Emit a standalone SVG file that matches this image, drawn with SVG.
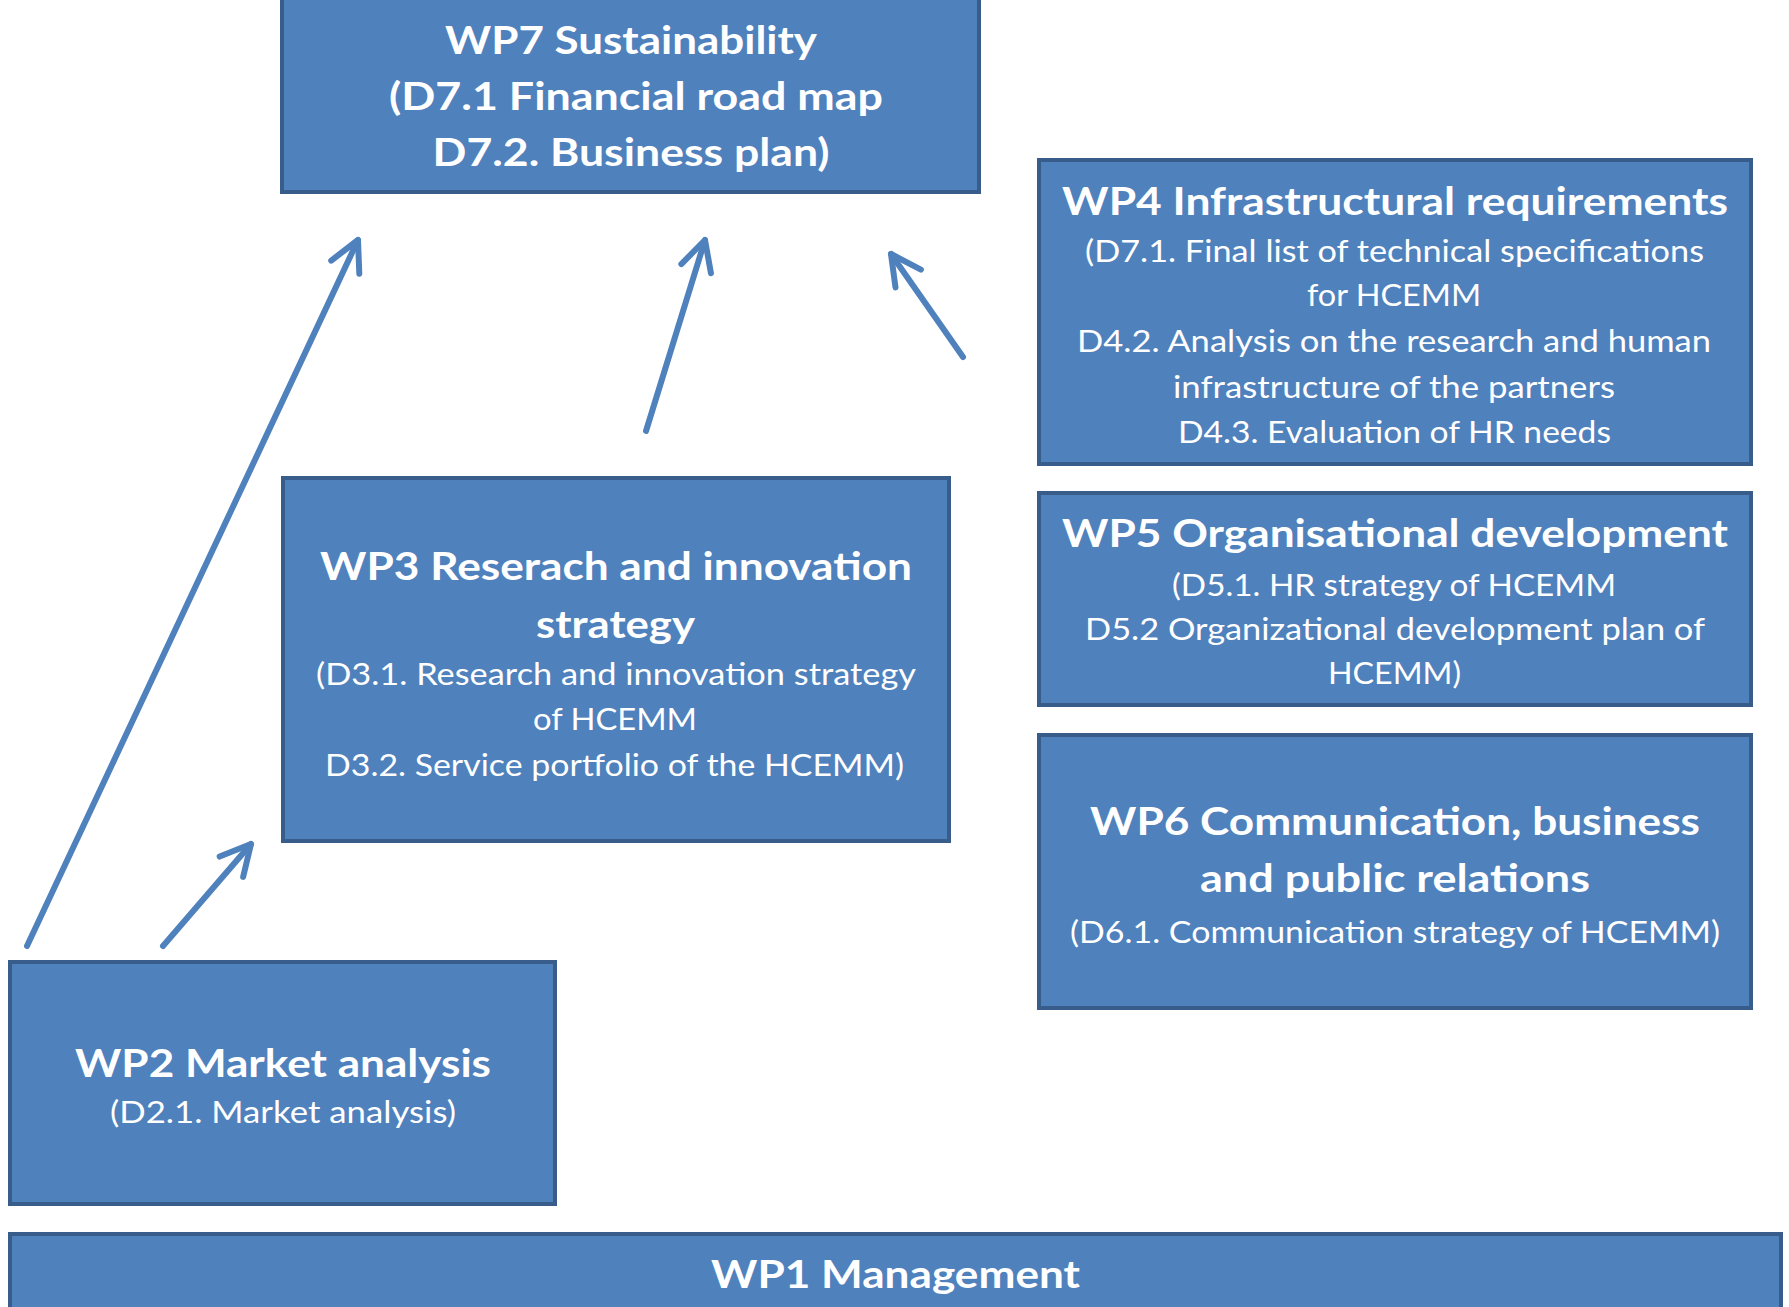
<svg xmlns="http://www.w3.org/2000/svg" width="1789" height="1307" viewBox="0 0 1789 1307">
<style>
.box{fill:#4f81bd;stroke:#385d8a;stroke-width:4}
.b{font-family:Lato,"Open Sans","Liberation Sans",sans-serif;font-weight:700;font-size:39px;fill:#fff;text-anchor:middle}
.r{font-family:Lato,"Open Sans","Liberation Sans",sans-serif;font-weight:400;font-size:30.5px;fill:#fff;text-anchor:middle}
.conn{stroke:#4f81bd;stroke-width:6;stroke-linecap:round;fill:none}
</style>
<defs>
<marker id="arr" markerUnits="userSpaceOnUse" viewBox="-40 -25 50 50" markerWidth="50" markerHeight="50" refX="0" refY="0" orient="auto" overflow="visible">
<path d="M-30,-15.5 L0,0 L-30,15.5" fill="none" stroke="#4f81bd" stroke-width="6" stroke-linecap="round" stroke-linejoin="round"/>
</marker>
</defs>
<rect width="1789" height="1307" fill="#fff"/>
<g id="connectors">
<line class="conn" x1="27" y1="946" x2="358" y2="240" marker-end="url(#arr)"/>
<line class="conn" x1="646" y1="431" x2="705" y2="240" marker-end="url(#arr)"/>
<line class="conn" x1="963" y1="357" x2="891" y2="254" marker-end="url(#arr)"/>
<line class="conn" x1="163" y1="946" x2="251" y2="844" marker-end="url(#arr)"/>
</g>
<g id="wp7">
<rect class="box" x="282" y="-4" width="697" height="196"/>
<text class="b" x="631" y="54" textLength="372" lengthAdjust="spacingAndGlyphs">WP7 Sustainability</text>
<text class="b" x="636" y="110" textLength="494" lengthAdjust="spacingAndGlyphs">(D7.1 Financial road map</text>
<text class="b" x="631" y="166" textLength="397" lengthAdjust="spacingAndGlyphs">D7.2. Business plan)</text>
</g>
<g id="wp4">
<rect class="box" x="1039" y="160" width="712" height="304"/>
<text class="b" x="1395" y="215" textLength="666" lengthAdjust="spacingAndGlyphs">WP4 Infrastructural requirements</text>
<text class="r" x="1394.5" y="262" textLength="619" lengthAdjust="spacingAndGlyphs">(D7.1. Final list of technical specifications</text>
<text class="r" x="1394" y="306" textLength="174" lengthAdjust="spacingAndGlyphs">for HCEMM</text>
<text class="r" x="1394" y="352" textLength="634" lengthAdjust="spacingAndGlyphs">D4.2. Analysis on the research and human</text>
<text class="r" x="1394" y="398" textLength="442" lengthAdjust="spacingAndGlyphs">infrastructure of the partners</text>
<text class="r" x="1394.5" y="443" textLength="433" lengthAdjust="spacingAndGlyphs">D4.3. Evaluation of HR needs</text>
</g>
<g id="wp5">
<rect class="box" x="1039" y="493" width="712" height="212"/>
<text class="b" x="1395" y="547" textLength="666" lengthAdjust="spacingAndGlyphs">WP5 Organisational development</text>
<text class="r" x="1394" y="596" textLength="444" lengthAdjust="spacingAndGlyphs">(D5.1. HR strategy of HCEMM</text>
<text class="r" x="1395" y="640" textLength="620" lengthAdjust="spacingAndGlyphs">D5.2 Organizational development plan of</text>
<text class="r" x="1394.5" y="684" textLength="133" lengthAdjust="spacingAndGlyphs">HCEMM)</text>
</g>
<g id="wp6">
<rect class="box" x="1039" y="735" width="712" height="273"/>
<text class="b" x="1395" y="835" textLength="610" lengthAdjust="spacingAndGlyphs">WP6 Communication, business</text>
<text class="b" x="1395" y="892" textLength="390" lengthAdjust="spacingAndGlyphs">and public relations</text>
<text class="r" x="1395" y="943" textLength="650" lengthAdjust="spacingAndGlyphs">(D6.1. Communication strategy of HCEMM)</text>
</g>
<g id="wp3">
<rect class="box" x="283" y="478" width="666" height="363"/>
<text class="b" x="616" y="580" textLength="592" lengthAdjust="spacingAndGlyphs">WP3 Reserach and innovation</text>
<text class="b" x="615.5" y="638" textLength="159" lengthAdjust="spacingAndGlyphs">strategy</text>
<text class="r" x="616" y="685" textLength="600" lengthAdjust="spacingAndGlyphs">(D3.1. Research and innovation strategy</text>
<text class="r" x="615" y="730" textLength="164" lengthAdjust="spacingAndGlyphs">of HCEMM</text>
<text class="r" x="614.5" y="776" textLength="579" lengthAdjust="spacingAndGlyphs">D3.2. Service portfolio of the HCEMM)</text>
</g>
<g id="wp2">
<rect class="box" x="10" y="962" width="545" height="242"/>
<text class="b" x="283" y="1077" textLength="416" lengthAdjust="spacingAndGlyphs">WP2 Market analysis</text>
<text class="r" x="283" y="1123" textLength="346" lengthAdjust="spacingAndGlyphs">(D2.1. Market analysis)</text>
</g>
<g id="wp1">
<rect class="box" x="10" y="1234" width="1771" height="100"/>
<text class="b" x="895.5" y="1288" textLength="369" lengthAdjust="spacingAndGlyphs">WP1 Management</text>
</g>
</svg>
